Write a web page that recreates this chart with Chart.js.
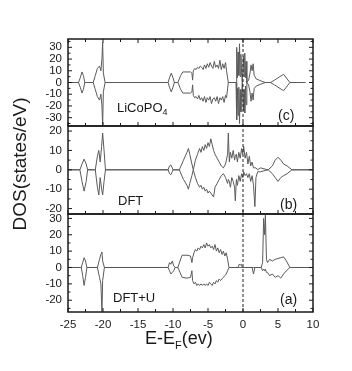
<!DOCTYPE html>
<html><head><meta charset="utf-8">
<script src="https://cdn.jsdelivr.net/npm/chart.js@4/dist/chart.umd.min.js"></script>
<style>html,body{margin:0;padding:0;background:#fff}#wrap{width:352px;height:371px}</style>
</head><body><div id="wrap"><canvas id="c" width="352" height="371"></canvas></div>
<script>
// ---------- data ----------
const xTicks = [-25, -20, -15, -10, -5, 0, 5, 10];
const yTicksC = [-30, -20, -10, 0, 10, 20, 30];
const yTicksB = [-20, -10, 0, 10, 20];
const yTicksA = [-20, -10, 0, 10, 20, 30];
const panelNames = ['LiCoPO', 'DFT', 'DFT+U'];
const panelTags = ['(c)', '(b)', '(a)'];

// panel (c) LiCoPO4
const energyC = [
  -25, -23.5, -23.25, -23.0, -22.8, -22.6,
  -21.4, -21.1, -20.8, -20.5, -20.3, -20.15, -20.05, -19.95, -19.7,
  -10.7, -10.5, -10.25, -10.0, -9.8,
  -9.3, -8.9, -8.6, -8.0, -7.5, -7.3, -7.2,
  -7.1, -6.9, -6.7, -6.5, -6.3, -6.1, -5.9, -5.7, -5.5, -5.3,
  -5.1, -4.9, -4.7, -4.5, -4.3, -4.1, -3.9, -3.7, -3.5, -3.3,
  -3.1, -2.9, -2.7, -2.5, -2.35, -2.1,
  -1.0, -0.9, -0.8, -0.7, -0.6, -0.5, -0.4, -0.3, -0.2, -0.1,
  0.05, 0.15, 0.25, 0.35, 0.45, 0.55, 0.8, 1.0, 1.15, 1.3,
  1.45, 1.6, 1.9,
  2.3, 2.7, 3.2, 3.9, 4.5, 5.0, 5.8, 6.7, 8.9
];
const upC = [
  0, 0, 4, 9, 6, 0,
  0, 6, 12, 14, 10, 20, 34, 8, 0,
  0, 4, 8, 4, 0,
  0, 6, 9, 9, 9, 8, 2,
  10, 12, 11, 13, 12, 14, 13, 11, 15, 12,
  16, 13, 17, 14, 12, 18, 13, 15, 12, 19,
  11, 16, 12, 17, 10, 0,
  0, 30, 4, 26, 6, 33, 5, 24, 8, 0,
  22, 5, 25, 4, 18, 0, 2, 8, 15, 10,
  16, 6, 3,
  2, 1, 0, 0, 2, 4, 7, 0, 0
];
const downC = [
  0, 0, -4, -9, -6, 0,
  0, -6, -12, -15, -10, -20, -37, -8, 0,
  0, -4, -8, -4, 0,
  0, -6, -9, -9, -9, -8, -2,
  -11, -13, -12, -14, -11, -15, -13, -16, -12, -17,
  -13, -15, -12, -18, -14, -13, -16, -12, -18, -13,
  -15, -12, -17, -11, -13, 0,
  0, -32, -5, -28, -4, -35, -6, -25, -10, 0,
  -24, -6, -26, -3, -19, 0, -2, -8, -16, -9,
  -15, -5, -3,
  -2, -1, 0, 0, -2, -4, -7, 0, 0
];

// panel (b) DFT
const energyB = [
  -25, -23.3, -23.0, -22.7, -22.4, -22.2,
  -21.1, -20.8, -20.6, -20.4, -20.2, -20.05, -19.85, -19.65,
  -10.7, -10.5, -10.3, -10.1, -10.0,
  -9.1, -8.5, -8.0, -7.8, -7.6, -7.3, -7.1,
  -6.8, -6.5, -6.2, -6.0, -5.8, -5.6, -5.4, -5.2, -5.0, -4.8,
  -4.6, -4.4, -4.2, -4.0, -3.7, -3.4, -3.1, -2.8, -2.5, -2.2,
  -2.1, -1.95, -1.8, -1.6, -1.4, -1.2, -1.1, -0.95, -0.8, -0.6,
  -0.4, -0.2, -0.05, 0.1, 0.3, 0.5, 0.7, 0.9, 1.1, 1.3,
  1.5, 1.7, 1.85, 2.1, 2.5, 3.0, 3.6,
  4.2, 4.6, 5.0, 5.4, 5.8, 6.3, 7.0, 10
];
const upB = [
  0, 0, 3, 5.5, 3, 0,
  0, 7, 10, 4, 12, 19, 10, 0,
  0, 2, 2.5, 1, 0,
  0, 5, 9, 11, 8, 3, 0,
  5, 8, 11, 9, 12, 10, 13, 11, 14, 12,
  16, 13, 10, 8, 6, 4, 2, 1, 3, 8,
  19, 4, 9, 6, 10, 5, 7, 8, 4, 9,
  6, 11, 8, 12, 6, 9, 3, 7, 2, 4,
  1, 1, 1, 0, 1, 0.5, 0,
  2, 5, 6.5, 5, 3, 2, 0, 0
];
const downB = [
  0, 0, -6, -11, -6, 0,
  0, -9, -13, -4, -10, -13, -6, 0,
  0, -2, -2.5, -1, 0,
  0, -5, -8, -10, -7, -3, 0,
  -4, -7, -9, -8, -10, -9, -11, -10, -12, -11,
  -12, -13, -14, -9, -7, -5, -3, -2, -4, -7,
  -5, -6, -9, -4, -6, -9, -16, -5, -8, -3,
  -6, -2, -4, -1, -3, -2, -4, -2, -6, -3,
  -8, -19, -4, -1, -1, -0.5, 0,
  -2, -4, -6, -4, -3, -2, 0, 0
];

// panel (a) DFT+U
const energyA = [
  -25, -23.1, -22.9, -22.7, -22.5, -22.3,
  -20.8, -20.5, -20.3, -20.15, -20.05, -19.8,
  -10.7, -10.5, -10.3, -10.1, -9.9, -9.7,
  -9.3, -9.0, -8.7, -8.0, -7.5, -7.3, -7.2,
  -7.0, -6.8, -6.6, -6.4, -6.2, -6.0, -5.8, -5.6, -5.4, -5.2,
  -5.0, -4.8, -4.6, -4.4, -4.2, -4.0, -3.8, -3.6, -3.4, -3.2,
  -3.0, -2.8, -2.6, -2.4, -2.2, -2.0,
  -0.7, -0.55, -0.4, -0.25, -0.1, 1.3, 1.5, 1.7,
  2.6, 2.8, 2.95, 3.1, 3.2, 3.35, 3.5, 3.8,
  4.2, 4.6, 5.0, 5.4, 5.8, 6.2, 6.7, 10
];
const upA = [
  0, 0, 3, 6, 4, 0,
  0, 5, 8, 9.5, 4, 0,
  0, 3, 2, 4, 1, 0,
  0, 4, 7.5, 7.5, 7, 3, 6,
  9, 11, 10, 12, 11, 13, 12, 14, 12, 15,
  13, 14, 12, 13, 11, 14, 10, 12, 9, 11,
  8, 10, 7, 9, 5, 0,
  0, 2, 1.5, 2, 0, 0, 0, 0,
  0, 3, 30, 20, 32, 5, 3, 5,
  4, 5, 5.5, 6, 6.5, 4, 0, 0
];
const downA = [
  0, 0, -5, -11, -6, 0,
  0, -6, -10, -27, -8, 0,
  0, -2, -4, -3, -2, 0,
  0, -3, -6, -6.5, -6, -2, -8,
  -10, -9, -11, -10, -11, -10, -11, -10, -11, -10,
  -11, -9, -10, -11, -9, -10, -8, -9, -7, -8,
  -7, -6, -5, -4, -2, 0,
  0, 0, 0, 0, 0, 0, -4, 0,
  0, -2, -1, -2, -1, -3, -3, -5,
  -4, -6, -5, -6.5, -4, -2, 0, 0
];

// ---------- chart ----------
const LINE = '#5a5a5a';
const INK = '#1a1a1a';
const FONT = 'Liberation Sans, Arial, sans-serif';
function pts(xs, ys) { return xs.map((x, i) => ({x: x, y: ys[i]})); }
const datasets = [
  {data: pts(energyC, upC), yAxisID: 'yC'},
  {data: pts(energyC, downC), yAxisID: 'yC'},
  {data: pts(energyB, upB), yAxisID: 'yB'},
  {data: pts(energyB, downB), yAxisID: 'yB'},
  {data: pts(energyA, upA), yAxisID: 'yA'},
  {data: pts(energyA, downA), yAxisID: 'yA'}
].map(d => Object.assign(d, {borderColor: LINE, borderWidth: 1, pointRadius: 0, tension: 0, fill: false}));

function yScale(ticks, weight, min, max) {
  return {
    type: 'linear', position: 'left', stack: 'dos', stackWeight: weight, min: min, max: max,
    afterBuildTicks: s => { s.ticks = ticks.map(v => ({value: v})); },
    afterFit: s => { s.width = 64; },
    grid: {display: false, drawTicks: false}, border: {display: false},
    ticks: {font: {family: FONT, size: 11.5}, color: INK, padding: 6, autoSkip: false, callback: v => String(v)}
  };
}

const axesPlugin = {
  id: 'axesDecor',
  afterDraw(chart) {
    const ctx = chart.ctx, ca = chart.chartArea, xs = chart.scales.x;
    const panels = [
      {s: chart.scales.yC, t: yTicksC},
      {s: chart.scales.yB, t: yTicksB},
      {s: chart.scales.yA, t: yTicksA}
    ];
    ctx.save();
    const x0 = xs.getPixelForValue(0);
    ctx.strokeStyle = '#222'; ctx.lineWidth = 1; ctx.setLineDash([3, 2]);
    ctx.beginPath(); ctx.moveTo(x0, ca.top); ctx.lineTo(x0, ca.bottom); ctx.stroke();
    ctx.setLineDash([]);
    ctx.strokeStyle = INK;
    panels.forEach((p, idx) => {
      const top = p.s.top, bot = p.s.bottom;
      ctx.lineWidth = 1.5;
      ctx.strokeRect(ca.left, top, ca.right - ca.left, bot - top);
      ctx.lineWidth = 1;
      ctx.beginPath();
      for (let v = -25; v <= 10.001; v += 2.5) {
        const x = xs.getPixelForValue(v);
        const len = (Math.abs(v % 5) < 1e-6) ? 4 : 3;
        ctx.moveTo(x, bot); ctx.lineTo(x, bot - len);
        if (idx === 0) { ctx.moveTo(x, top); ctx.lineTo(x, top + len); }
      }
      const step = p.t[1] - p.t[0];
      for (let v = Math.ceil(p.s.min / (step / 2)) * (step / 2); v <= p.s.max; v += step / 2) {
        const y = p.s.getPixelForValue(v);
        const major = p.t.indexOf(v) >= 0;
        const len = major ? 4 : 2.5;
        ctx.moveTo(ca.left, y); ctx.lineTo(ca.left + len, y);
        ctx.moveTo(ca.right, y); ctx.lineTo(ca.right - len, y);
      }
      ctx.stroke();
    });
    ctx.fillStyle = INK; ctx.textBaseline = 'middle'; ctx.textAlign = 'left';
    const nameOff = [[49, 17.5], [50, 12.7], [45, 14]];
    const tagOff = [[210, 10], [212, 9], [212, 12]];
    panels.forEach((p, idx) => {
      const nx = ca.left + nameOff[idx][0], ny = p.s.bottom - nameOff[idx][1];
      ctx.font = '13px ' + FONT;
      ctx.fillText(panelNames[idx], nx, ny);
      if (idx === 0) {
        const w = ctx.measureText(panelNames[idx]).width;
        ctx.font = '9px ' + FONT;
        ctx.fillText('4', nx + w, ny + 4);
      }
      ctx.font = '14px ' + FONT;
      ctx.fillText(panelTags[idx], ca.left + tagOff[idx][0], p.s.bottom - tagOff[idx][1]);
    });
    ctx.textBaseline = 'alphabetic';
    let tx = 145;
    ctx.font = '18px ' + FONT;
    ctx.fillText('E-E', tx, 344); tx += ctx.measureText('E-E').width;
    ctx.font = '11px ' + FONT;
    ctx.fillText('F', tx, 349); tx += ctx.measureText('F').width;
    ctx.font = '18px ' + FONT;
    ctx.fillText('(ev)', tx, 344);
    ctx.save();
    ctx.translate(21, 164);
    ctx.rotate(-Math.PI / 2);
    ctx.textAlign = 'center'; ctx.textBaseline = 'middle';
    ctx.font = '19px ' + FONT;
    ctx.fillText('DOS(states/eV)', 0, 0);
    ctx.restore();
    ctx.restore();
  }
};

new Chart(document.getElementById('c'), {
  type: 'line',
  data: {datasets: datasets},
  options: {
    responsive: false, animation: false, devicePixelRatio: 1,
    layout: {padding: {left: 4, right: 39, top: 39, bottom: 39}},
    plugins: {legend: {display: false}, tooltip: {enabled: false}},
    scales: {
      x: {
        type: 'linear', position: 'bottom', min: -25, max: 10,
        afterBuildTicks: s => { s.ticks = xTicks.map(v => ({value: v})); },
        afterFit: s => { s.height = 20; },
        grid: {display: false, drawTicks: false}, border: {display: false},
        ticks: {font: {family: FONT, size: 11.5}, color: INK, padding: 6, maxRotation: 0, autoSkip: false, callback: v => String(v)}
      },
      yA: yScale(yTicksA, 98, -27.2, 32.7),
      yB: yScale(yTicksB, 88, -22.8, 22.6),
      yC: yScale(yTicksC, 87, -37.1, 37.1)
    }
  },
  plugins: [axesPlugin]
});
</script>
</body></html>
